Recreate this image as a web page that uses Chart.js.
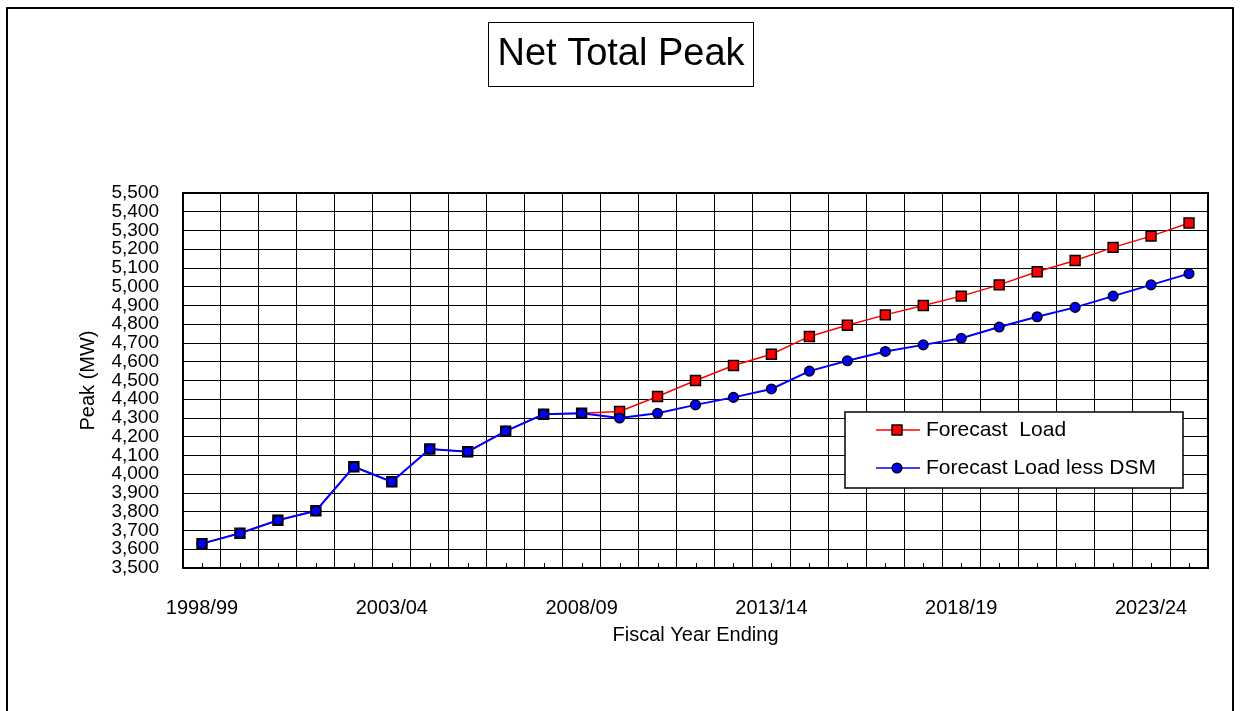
<!DOCTYPE html>
<html>
<head>
<meta charset="utf-8">
<title>Net Total Peak</title>
<script src="https://cdn.jsdelivr.net/npm/chart.js@4/dist/chart.umd.min.js"></script>
<style>
  html, body { margin: 0; padding: 0; background: #fff; }
  #peakChart { display: block; }
</style>
</head>
<body>
<canvas id="peakChart" width="1241" height="711"></canvas>
<script>
const fiscalYears = [
  '1998/99', '1999/00', '2000/01', '2001/02', '2002/03', '2003/04', '2004/05',
  '2005/06', '2006/07', '2007/08', '2008/09', '2009/10', '2010/11', '2011/12',
  '2012/13', '2013/14', '2014/15', '2015/16', '2016/17', '2017/18', '2018/19',
  '2019/20', '2020/21', '2021/22', '2022/23', '2023/24', '2024/25'
];

const forecastLoad = [
  3630, 3685, 3755, 3805, 4040, 3960, 4135, 4120, 4230, 4320, 4325,
  4335, 4415, 4500, 4580, 4640, 4735, 4795, 4850, 4900, 4950, 5010,
  5080, 5140, 5210, 5270, 5340
];

const forecastLessDsm = [
  3630, 3685, 3755, 3805, 4040, 3960, 4135, 4120, 4230, 4320, 4325,
  4300, 4325, 4370, 4410, 4455, 4550, 4605, 4655, 4690, 4725, 4785,
  4840, 4890, 4950, 5010, 5070
];

const yTicks = { min: 3500, max: 5500, step: 100 };
const labelEvery = 5;

const fontFamily = '"Liberation Sans", Arial, sans-serif';

// outer frame (no bottom edge, it runs off the page in the original)
const framePlugin = {
  id: 'frame',
  beforeDraw: (chart) => {
    const { ctx, width } = chart;
    ctx.save();
    ctx.strokeStyle = '#000';
    ctx.lineWidth = 2;
    ctx.beginPath();
    ctx.moveTo(7, chart.height + 2);
    ctx.lineTo(7, 8);
    ctx.lineTo(width - 8, 8);
    ctx.lineTo(width - 8, chart.height + 2);
    ctx.stroke();
    ctx.restore();
  }
};

const titleBoxPlugin = {
  id: 'titleBox',
  afterDraw: (chart) => {
    const { ctx } = chart;
    ctx.save();
    ctx.strokeStyle = '#000';
    ctx.lineWidth = 1;
    ctx.strokeRect(488.5, 22.5, 265, 64);
    ctx.fillStyle = '#000';
    ctx.font = `38px ${fontFamily}`;
    ctx.textAlign = 'center';
    ctx.textBaseline = 'middle';
    ctx.fillText('Net Total Peak', 621, 55);
    ctx.restore();
  }
};

// plot border + small tick marks at each category
const plotBorderPlugin = {
  id: 'plotBorder',
  afterDatasetsDraw: (chart) => {
    const { ctx, chartArea } = chart;
    const xScale = chart.scales.x;
    ctx.save();
    ctx.strokeStyle = '#000';
    ctx.lineWidth = 1;
    ctx.beginPath();
    fiscalYears.forEach((label, index) => {
      const px = Math.round(xScale.getPixelForValue(index)) + 0.5;
      ctx.moveTo(px, chartArea.bottom);
      ctx.lineTo(px, chartArea.bottom - 5);
    });
    ctx.stroke();
    ctx.lineWidth = 2;
    ctx.strokeRect(chartArea.left, chartArea.top, chartArea.right - chartArea.left, chartArea.bottom - chartArea.top);
    ctx.restore();
  }
};

const legendBoxPlugin = {
  id: 'legendBox',
  afterDraw: (chart) => {
    const { ctx } = chart;
    const box = { left: 845, top: 412, width: 338, height: 76 };
    ctx.save();
    ctx.fillStyle = '#fff';
    ctx.fillRect(box.left, box.top, box.width, box.height);
    ctx.strokeStyle = '#000';
    ctx.lineWidth = 1.5;
    ctx.strokeRect(box.left, box.top, box.width, box.height);

    chart.data.datasets.forEach((dataset, index) => {
      const rowY = box.top + 18 + index * 38;
      ctx.strokeStyle = dataset.borderColor;
      ctx.lineWidth = 1.5;
      ctx.beginPath();
      ctx.moveTo(876, rowY);
      ctx.lineTo(920, rowY);
      ctx.stroke();

      ctx.fillStyle = dataset.pointBackgroundColor;
      ctx.strokeStyle = dataset.pointBorderColor;
      ctx.lineWidth = dataset.pointBorderWidth;
      ctx.beginPath();
      if (dataset.pointStyle === 'rect') {
        const half = dataset.pointRadius * Math.SQRT1_2;
        ctx.rect(897 - half, rowY - half, half * 2, half * 2);
      } else {
        ctx.arc(897, rowY, dataset.pointRadius, 0, Math.PI * 2);
      }
      ctx.fill();
      ctx.stroke();

      ctx.fillStyle = '#000';
      ctx.font = `21px ${fontFamily}`;
      ctx.textAlign = 'left';
      ctx.textBaseline = 'middle';
      ctx.fillText(dataset.label, 926, rowY);
    });
    ctx.restore();
  }
};

const ctx = document.getElementById('peakChart');
const chart = new Chart(ctx, {
  type: 'line',
  data: {
    labels: fiscalYears,
    datasets: [
      {
        label: 'Forecast  Load',
        data: forecastLoad,
        borderColor: '#ff0000',
        borderWidth: 1.5,
        pointStyle: 'rect',
        pointRadius: 7,
        pointBackgroundColor: '#ff0000',
        pointBorderColor: '#000',
        pointBorderWidth: 1.5,
        tension: 0,
        order: 2
      },
      {
        label: 'Forecast Load less DSM',
        data: forecastLessDsm,
        borderColor: '#0000ff',
        borderWidth: 2,
        pointStyle: 'circle',
        pointRadius: 4.8,
        pointBackgroundColor: '#0000ff',
        pointBorderColor: '#000',
        pointBorderWidth: 1.5,
        tension: 0,
        order: 1
      }
    ]
  },
  options: {
    responsive: false,
    animation: false,
    devicePixelRatio: 1,
    layout: {
      padding: { left: 0, top: 193, right: 33, bottom: 0 }
    },
    plugins: {
      legend: { display: false },
      title: { display: false },
      tooltip: { enabled: false }
    },
    scales: {
      x: {
        type: 'category',
        offset: true,
        afterFit: (scale) => { scale.height = 143; },
        grid: {
          offset: true,
          color: '#000',
          lineWidth: 1,
          drawTicks: false,
          tickLength: 0
        },
        border: { display: true, color: '#000', width: 2 },
        ticks: {
          autoSkip: false,
          maxRotation: 0,
          padding: 28,
          color: '#000',
          font: { family: fontFamily, size: 20 },
          callback: (value, index) => (index % labelEvery === 0 ? fiscalYears[index] : '')
        },
        title: {
          display: true,
          text: 'Fiscal Year Ending',
          color: '#000',
          font: { family: fontFamily, size: 20 },
          padding: { top: 0, bottom: 64 }
        }
      },
      y: {
        min: yTicks.min,
        max: yTicks.max,
        afterFit: (scale) => { scale.width = 183; },
        grid: {
          color: '#000',
          lineWidth: 1,
          drawTicks: false,
          tickLength: 0
        },
        border: { display: true, color: '#000', width: 2 },
        ticks: {
          stepSize: yTicks.step,
          autoSkip: false,
          padding: 24,
          color: '#000',
          font: { family: fontFamily, size: 19 },
          callback: (value) => value.toLocaleString('en-US')
        },
        title: {
          display: true,
          text: 'Peak (MW)',
          color: '#000',
          font: { family: fontFamily, size: 20 },
          padding: { top: 76, bottom: 0 }
        }
      }
    }
  },
  plugins: [framePlugin, plotBorderPlugin, titleBoxPlugin, legendBoxPlugin]
});
</script>
</body>
</html>
